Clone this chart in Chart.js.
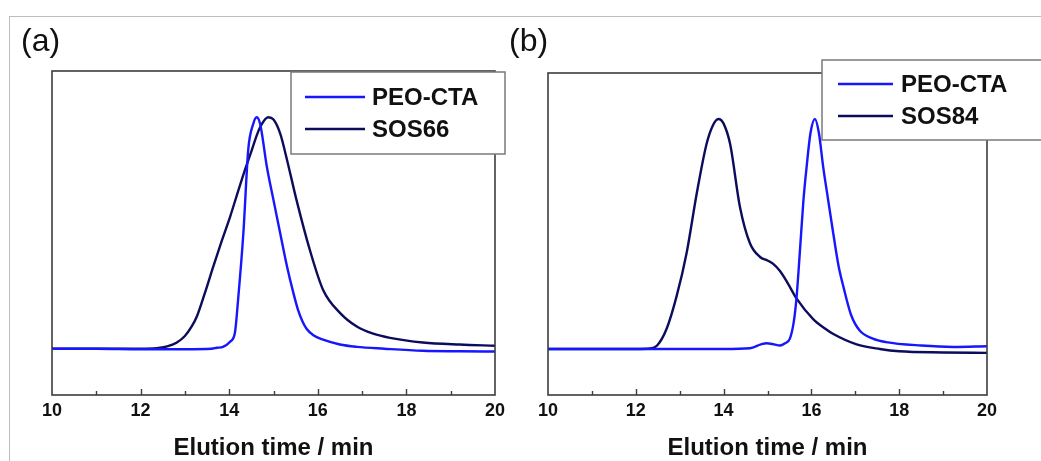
<!DOCTYPE html>
<html>
<head>
<meta charset="utf-8">
<script src="https://cdn.jsdelivr.net/npm/chart.js@4.4.1/dist/chart.umd.min.js"></script>
<style>
  body { margin: 0; background: #fff; width: 1041px; height: 461px; overflow: hidden; position: relative; font-family: Arial, "Liberation Sans", sans-serif; }
  .outer { position: absolute; left: 9px; top: 16px; width: 1100px; height: 500px; border-left: 1px solid #bdbdbd; border-top: 1px solid #bdbdbd; }
  canvas { position: absolute; top: 0; }
  #gpcA { left: 0; }
  #gpcB { left: 520px; }
  .tag { position: absolute; top: 21px; font-size: 32px; line-height: 38px; color: #111; z-index: 2; }
</style>
</head>
<body>
<div class="outer"></div>
<canvas id="gpcA" width="520" height="461"></canvas>
<canvas id="gpcB" width="521" height="461"></canvas>
<div class="tag" style="left:21px">(a)</div>
<div class="tag" style="left:509px">(b)</div>
<script>
// GPC traces, normalised detector response vs elution time (min)
const peoA_t = [10, 11, 12, 13, 13.6, 13.72, 13.86, 14.02, 14.13, 14.2, 14.32, 14.43, 14.54, 14.62, 14.7, 14.85, 15.0, 15.15, 15.3, 15.45, 15.55, 15.65, 15.75, 15.9, 16.12, 16.5, 16.88, 17.5, 18.37, 19.2, 20];
const peoA_y = [0, 0, -0.002, -0.002, 0, 0.004, 0.008, 0.03, 0.07, 0.21, 0.5, 0.86, 0.97, 1.0, 0.97, 0.786, 0.642, 0.5, 0.36, 0.24, 0.17, 0.12, 0.085, 0.058, 0.039, 0.018, 0.008, 0, -0.009, -0.011, -0.012];

const sos66_t = [10, 11, 12, 12.36, 12.6, 12.81, 13.0, 13.15, 13.27, 13.45, 13.64, 13.83, 14.02, 14.2, 14.35, 14.51, 14.6, 14.7, 14.88, 15.0, 15.15, 15.3, 15.52, 15.82, 16.12, 16.5, 16.88, 17.25, 17.63, 18.37, 19.2, 20];
const sos66_y = [0, 0, 0, 0.002, 0.01, 0.026, 0.055, 0.095, 0.139, 0.24, 0.355, 0.465, 0.57, 0.68, 0.77, 0.858, 0.91, 0.958, 1.0, 0.99, 0.93, 0.82, 0.642, 0.427, 0.254, 0.155, 0.096, 0.065, 0.047, 0.027, 0.018, 0.013];

const peoB_t = [10, 12, 14, 14.6, 14.85, 14.98, 15.15, 15.28, 15.4, 15.51, 15.6, 15.66, 15.74, 15.82, 15.89, 15.98, 16.08, 16.17, 16.27, 16.38, 16.5, 16.62, 16.73, 16.9, 17.1, 17.4, 17.7, 18.5, 19.23, 20];
const peoB_y = [0, 0, 0, 0.003, 0.02, 0.025, 0.02, 0.015, 0.025, 0.045, 0.12, 0.22, 0.43, 0.65, 0.79, 0.94, 1.0, 0.94, 0.79, 0.65, 0.5, 0.36, 0.27, 0.15, 0.08, 0.045, 0.03, 0.015, 0.009, 0.012];

const sos84_t = [10, 11, 12, 12.33, 12.48, 12.7, 12.93, 13.16, 13.39, 13.61, 13.75, 13.88, 14.0, 14.15, 14.37, 14.6, 14.83, 15.0, 15.13, 15.28, 15.45, 15.66, 16.04, 16.3, 16.5, 17.03, 17.56, 18, 19, 20];
const sos84_y = [0, 0, 0, 0.002, 0.014, 0.087, 0.23, 0.42, 0.678, 0.89, 0.97, 1.0, 0.98, 0.89, 0.62, 0.46, 0.40, 0.385, 0.37, 0.34, 0.29, 0.22, 0.13, 0.09, 0.065, 0.02, 0, -0.01, -0.015, -0.017];

const xTitle = 'Elution time / min';
const blue = 'rgb(22,22,255)';
const navy = 'rgb(12,12,92)';

function pts(t, y) {
    return t.map((v, i) => ({ x: v, y: y[i] }));
}

function trace(label, t, y, color) {
    return {
        label: label,
        data: pts(t, y),
        borderColor: color,
        borderWidth: 2.4,
        pointRadius: 0,
        fill: false,
        cubicInterpolationMode: 'monotone'
    };
}

// plot frame + inward ticks on the time axis
const frameTicks = {
    id: 'frameTicks',
    afterDatasetsDraw(chart) {
        const { ctx, chartArea: a } = chart;
        const xs = chart.scales.x;
        ctx.save();
        ctx.strokeStyle = '#3c3c3c';
        ctx.lineWidth = 1.6;
        ctx.strokeRect(a.left, a.top, a.right - a.left, a.bottom - a.top);
        ctx.lineWidth = 1.4;
        for (let v = xs.min + 1; v < xs.max; v++) {
            const px = Math.round(xs.getPixelForValue(v)) + 0.5;
            const len = v % 2 === 0 ? 6 : 4;
            ctx.beginPath();
            ctx.moveTo(px, a.bottom);
            ctx.lineTo(px, a.bottom - len);
            ctx.stroke();
        }
        ctx.restore();
    }
};

// boxed legend sitting over the top right corner of the frame
const boxLegend = {
    id: 'boxLegend',
    afterDraw(chart, args, o) {
        const ctx = chart.ctx;
        ctx.save();
        ctx.fillStyle = '#fff';
        ctx.fillRect(o.x, o.y, o.w, o.h);
        ctx.strokeStyle = '#7a7a7a';
        ctx.lineWidth = 1.5;
        ctx.strokeRect(o.x, o.y, o.w, o.h);
        ctx.font = 'bold 24px Arial, "Liberation Sans"';
        ctx.textBaseline = 'middle';
        ctx.fillStyle = '#111';
        chart.data.datasets.forEach((ds, i) => {
            const ry = o.rows[i];
            ctx.strokeStyle = ds.borderColor;
            ctx.lineWidth = 2.6;
            ctx.beginPath();
            ctx.moveTo(o.lineFrom, ry);
            ctx.lineTo(o.lineTo, ry);
            ctx.stroke();
            ctx.fillText(ds.label, o.textX, ry + 1);
        });
        ctx.restore();
    }
};

function makeChart(id, datasets, pad, legend) {
    return new Chart(document.getElementById(id), {
        type: 'line',
        data: { datasets: datasets },
        plugins: [frameTicks, boxLegend],
        options: {
            responsive: false,
            animation: false,
            layout: { padding: pad },
            plugins: {
                legend: { display: false },
                tooltip: { enabled: false },
                boxLegend: legend
            },
            scales: {
                x: {
                    type: 'linear',
                    min: 10,
                    max: 20,
                    grid: { display: false, drawTicks: false },
                    border: { display: false },
                    ticks: {
                        stepSize: 2,
                        padding: 5,
                        color: '#111',
                        font: { family: 'Arial, "Liberation Sans"', size: 18, weight: 'bold' }
                    },
                    title: {
                        display: true,
                        text: xTitle,
                        color: '#111',
                        padding: { top: 0, bottom: 1 },
                        font: { family: 'Arial, "Liberation Sans"', size: 24, weight: 'bold', lineHeight: 1 }
                    },
                    afterFit(scale) { scale.height = 66; }
                },
                y: { type: 'linear', min: -0.2, max: 1.2, display: false }
            }
        }
    });
}

makeChart('gpcA',
    [trace('PEO-CTA', peoA_t, peoA_y, blue), trace('SOS66', sos66_t, sos66_y, navy)],
    { left: 52, right: 25, top: 71, bottom: 0 },
    { x: 291, y: 72, w: 214, h: 82, lineFrom: 305, lineTo: 365, textX: 372, rows: [97, 129] });

makeChart('gpcB',
    [trace('PEO-CTA', peoB_t, peoB_y, blue), trace('SOS84', sos84_t, sos84_y, navy)],
    { left: 28, right: 54, top: 73, bottom: 0 },
    { x: 302, y: 60, w: 240, h: 80, lineFrom: 318, lineTo: 373, textX: 381, rows: [84, 116] });
</script>
</body>
</html>
